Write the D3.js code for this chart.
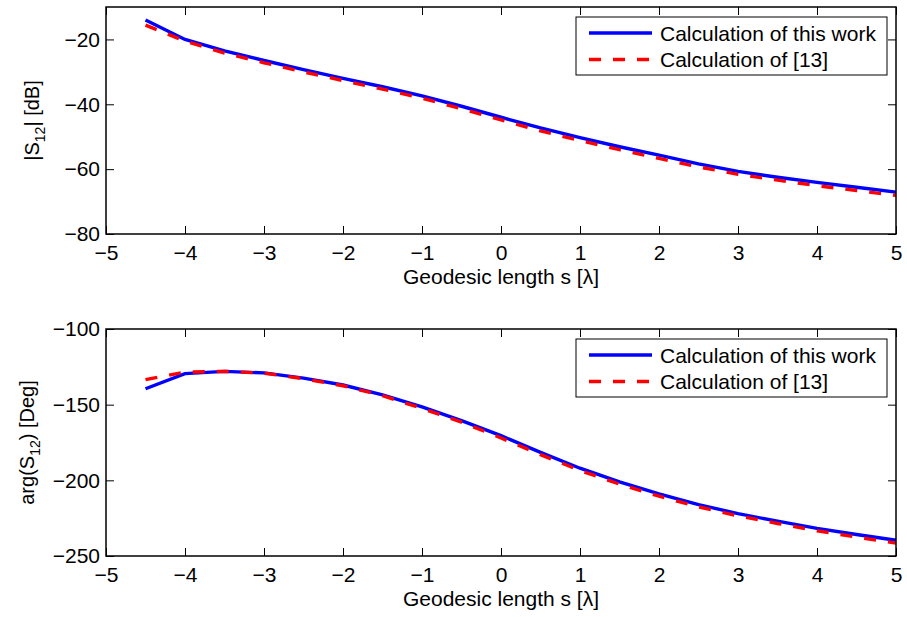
<!DOCTYPE html>
<html>
<head>
<meta charset="utf-8">
<script src="https://cdn.jsdelivr.net/npm/d3@7"></script>
<style>
  body { margin: 0; background: #fff; }
  svg { display: block; font-family: "Liberation Sans", Arial, sans-serif; }
  .tick text { font-size: 21px; fill: #000; }
</style>
</head>
<body>
<svg id="chart" width="907" height="617"></svg>
<script>
// geodesic length samples
const s = [-4.5, -4, -3.5, -3, -2.5, -2, -1.5, -1, -0.5, 0, 0.5, 1, 1.5, 2, 2.5, 3, 3.5, 4, 4.5, 5]

// |S12| in dB
const magThisWork = [-14, -20, -23.5, -26.5, -29.3, -32, -34.6, -37.4, -40.6, -44, -47.3, -50.3, -53.1, -55.7, -58.4, -60.7, -62.5, -64.1, -65.6, -67.1]
const magRef13 = [-15.6, -20.5, -24.2, -27.2, -30, -32.7, -35.3, -38.1, -41.4, -44.8, -48.2, -51.2, -54, -56.7, -59.3, -61.6, -63.4, -65.1, -66.6, -68.1]

// arg(S12) in degrees
const argThisWork = [-139.5, -129.5, -128, -129, -132.5, -137, -143.5, -151.5, -160.5, -170.5, -181.5, -192, -201, -209, -216, -222, -227, -231.7, -235.8, -239.6]
const argRef13 = [-133.5, -128.5, -128, -129.2, -132.8, -137.5, -144, -152.5, -161.5, -172, -183, -193.5, -202.5, -210.5, -217.5, -223.5, -228.5, -233.3, -237.5, -241.5]

const xTicks = [-5, -4, -3, -2, -1, 0, 1, 2, 3, 4, 5]
const magTicks = [-80, -60, -40, -20]
const argTicks = [-250, -200, -150, -100]
const legendLabels = ['Calculation of this work', 'Calculation of [13]']

const svg = d3.select('#chart')
const left = 106, right = 896

function panel(opts) {
  const x = d3.scaleLinear().domain([-5, 5]).range([left, right])
  const y = d3.scaleLinear().domain(opts.ydomain).range([opts.bottom, opts.top])
  const g = svg.append('g')

  // ticks on all sides, pointing inwards
  const tl = 8
  g.append('g')
    .attr('transform', `translate(0,${opts.bottom})`)
    .call(d3.axisBottom(x).tickValues(xTicks).tickSizeInner(-tl).tickSizeOuter(0).tickPadding(11))
  g.append('g')
    .attr('transform', `translate(0,${opts.top})`)
    .call(d3.axisTop(x).tickValues(xTicks).tickSizeInner(-tl).tickSizeOuter(0).tickFormat(''))
  g.append('g')
    .attr('transform', `translate(${left},0)`)
    .call(d3.axisLeft(y).tickValues(opts.yticks).tickSizeInner(-tl).tickSizeOuter(0).tickPadding(6))
  g.append('g')
    .attr('transform', `translate(${right},0)`)
    .call(d3.axisRight(y).tickValues(opts.yticks).tickSizeInner(-tl).tickSizeOuter(0).tickFormat(''))
  g.selectAll('.domain').remove()
  g.selectAll('.tick line').attr('stroke', '#000').attr('stroke-width', 1)
  g.selectAll('.tick text').attr('fill', '#000')

  const line = d3.line().x((d, i) => x(s[i])).y(d => y(d))

  g.append('path').datum(opts.blue)
    .attr('d', line).attr('fill', 'none')
    .attr('stroke', '#0000ff').attr('stroke-width', 3.4)
  g.append('path').datum(opts.red)
    .attr('d', line).attr('fill', 'none')
    .attr('stroke', '#ff0000').attr('stroke-width', 3.4)
    .attr('stroke-dasharray', '12,12')

  g.append('rect')
    .attr('x', left).attr('y', opts.top)
    .attr('width', right - left).attr('height', opts.bottom - opts.top)
    .attr('fill', 'none').attr('stroke', '#000').attr('stroke-width', 1.5)

  // legend
  const lg = g.append('g')
  lg.append('rect')
    .attr('x', 576).attr('y', opts.legTop)
    .attr('width', 311).attr('height', 58)
    .attr('fill', '#fff').attr('stroke', '#000').attr('stroke-width', 1)
  legendLabels.forEach((lab, i) => {
    const yy = opts.legTop + 16 + i * 26.5
    lg.append('line')
      .attr('x1', 589).attr('x2', 652).attr('y1', yy).attr('y2', yy)
      .attr('stroke', i === 0 ? '#0000ff' : '#ff0000').attr('stroke-width', 3.4)
      .attr('stroke-dasharray', i === 0 ? null : '12,12')
    lg.append('text')
      .attr('x', 660).attr('y', yy).attr('dy', '0.36em')
      .attr('font-size', 21).text(lab)
  })

  // axis labels
  g.append('text')
    .attr('x', (left + right) / 2).attr('y', opts.bottom + 50)
    .attr('text-anchor', 'middle').attr('font-size', 21)
    .text('Geodesic length s [λ]')

  const yl = g.append('text')
    .attr('transform', `translate(${opts.ylabX},${(opts.top + opts.bottom) / 2}) rotate(-90)`)
    .attr('text-anchor', 'middle').attr('font-size', 20)
  yl.append('tspan').text(opts.ylab[0])
  yl.append('tspan').attr('font-size', 14).attr('dy', 6).text('12')
  yl.append('tspan').attr('dy', -6).text(opts.ylab[1])
}

panel({
  top: 7, bottom: 234, ydomain: [-80, -10], yticks: magTicks,
  blue: magThisWork, red: magRef13, legTop: 17,
  ylab: ['|S', '| [dB]'], ylabX: 39
})

panel({
  top: 329, bottom: 556, ydomain: [-250, -100], yticks: argTicks,
  blue: argThisWork, red: argRef13, legTop: 339,
  ylab: ['arg(S', ') [Deg]'], ylabX: 34
})
</script>
</body>
</html>
